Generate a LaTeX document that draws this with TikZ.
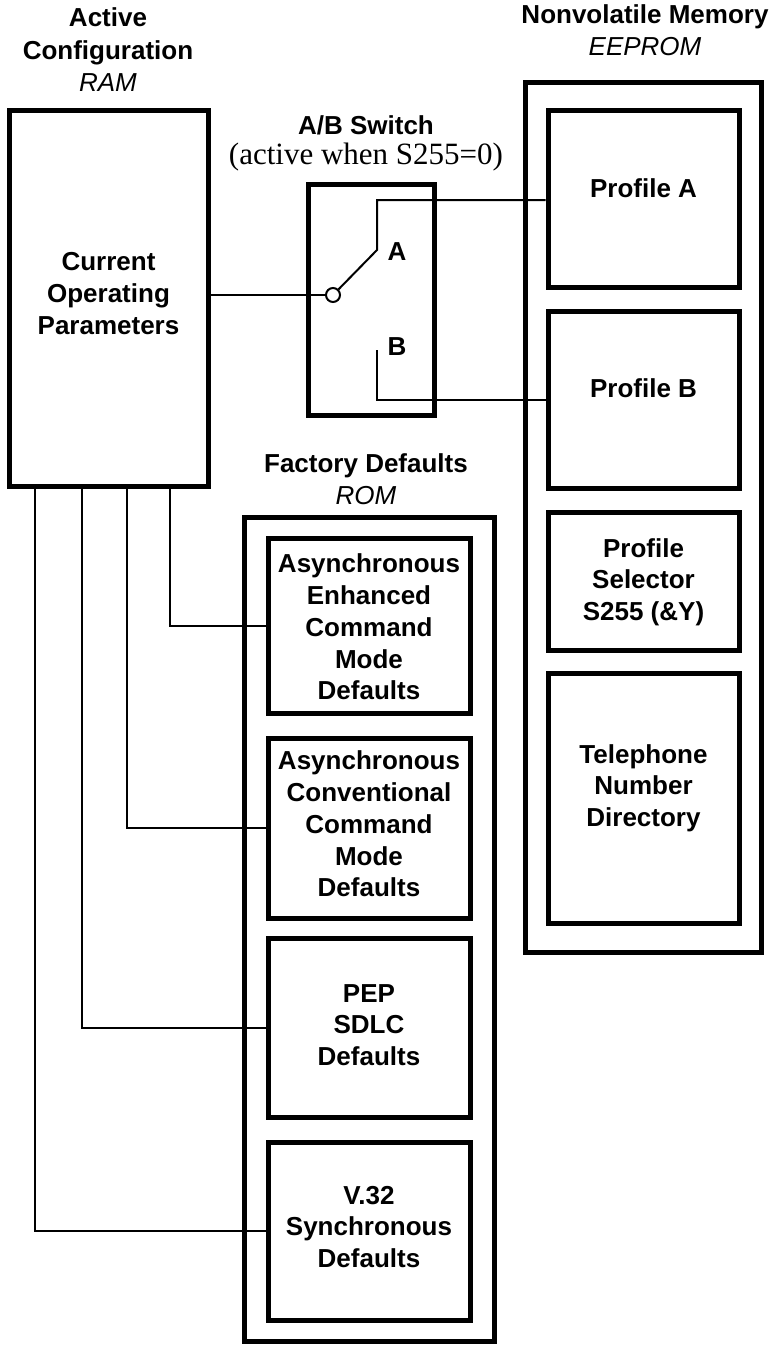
\documentclass[tikz,border=0pt]{standalone}
\usepackage{fontspec}
\setmainfont{Liberation Sans}
\newfontfamily\tmsfont{Liberation Serif}
\tikzset{
  boxst/.style={draw, line width=5pt, inner sep=0pt},
  wire/.style={line width=2pt},
  txt/.style={font=\fontsize{26}{31.7}\selectfont\bfseries, align=center, inner sep=0pt},
  hdr/.style={font=\fontsize{26}{32.5}\selectfont, align=center, inner sep=0pt},
  serifnote/.style={font=\tmsfont\fontsize{31}{33}\selectfont, inner sep=0pt},
}
\begin{document}
\begin{tikzpicture}[x=1pt,y=-1pt]
\useasboundingbox (0,0) rectangle (779,1346);

% headers
\node[hdr] (hAct) at (108,50) {\textbf{Active}\\\textbf{Configuration}\\\textit{RAM}};
\node[hdr] (hNV) at (645,30) {\textbf{Nonvolatile Memory}\\\textit{EEPROM}};
\node[hdr] (hFD) at (366,479) {\textbf{Factory Defaults}\\\textit{ROM}};
\node[txt] (hSW) at (366,125) {A/B Switch};
\node[serifnote] (hSWn) at (366,157) {(active when S255=0)};

% boxes
\node[boxst, minimum width=199pt, minimum height=376pt] (main) at (108.5,298) {};
\node[boxst, minimum width=126pt, minimum height=231pt] (sw) at (371,299.5) {};
\node[boxst, minimum width=236pt, minimum height=870pt] (nv) at (643,517) {};
\node[boxst, minimum width=191pt, minimum height=177pt] (pa) at (643.5,198.5) {};
\node[boxst, minimum width=191pt, minimum height=177pt] (pb) at (643.5,399.5) {};
\node[boxst, minimum width=191pt, minimum height=138pt] (ps) at (643.5,581) {};
\node[boxst, minimum width=191pt, minimum height=250pt] (tel) at (643.5,798) {};
\node[boxst, minimum width=250pt, minimum height=824pt] (fd) at (369,929) {};
\node[boxst, minimum width=202pt, minimum height=175pt] (ae) at (369,625.5) {};
\node[boxst, minimum width=202pt, minimum height=180pt] (ac) at (369,828) {};
\node[boxst, minimum width=202pt, minimum height=179pt] (pep) at (369,1027.5) {};
\node[boxst, minimum width=202pt, minimum height=178pt] (v32) at (369,1231) {};

% box texts
\node[txt] (tMain) at (108.5,293.5) {Current\\Operating\\Parameters};
\node[txt] (tPA) at (643.5,188) {Profile A};
\node[txt] (tPB) at (643.5,388) {Profile B};
\node[txt] (tPS) at (643.5,582) {Profile\\Selector\\S255 (\&Y)};
\node[txt] (tTel) at (643.5,788) {Telephone\\Number\\Directory};
\node[txt] (tAE) at (369,627) {Asynchronous\\Enhanced\\Command\\Mode\\Defaults};
\node[txt] (tAC) at (369,824) {Asynchronous\\Conventional\\Command\\Mode\\Defaults};
\node[txt] (tPEP) at (369,1025) {PEP\\SDLC\\Defaults};
\node[txt] (tV32) at (369,1227) {V.32\\Synchronous\\Defaults};

% switch
\node[draw, circle, line width=2pt, minimum size=14pt, inner sep=0pt, fill=white] (pivot) at (333,295) {};
\coordinate (armA) at (377,250);
\coordinate (topA) at (377,200);
\coordinate (tipB) at (377,350);
\node[txt] (lA) at (397,252) {A};
\node[txt] (lB) at (397,347) {B};

\draw[wire] (main.east |- pivot) -- (pivot);
\draw[wire] (pivot) -- (armA) -- (topA) -- (pa.west |- topA);
\draw[wire] (tipB) -- (tipB |- pb.west) -- (pb.west);

% drops from main box
\coordinate (d1) at (35,486);
\coordinate (d2) at (82,486);
\coordinate (d3) at (127,486);
\coordinate (d4) at (170,486);
\draw[wire] (d1) |- (v32.west);
\draw[wire] (d2) |- (pep.west);
\draw[wire] (d3) |- (ac.west);
\draw[wire] (d4) |- (ae.west);
\end{tikzpicture}
\end{document}
